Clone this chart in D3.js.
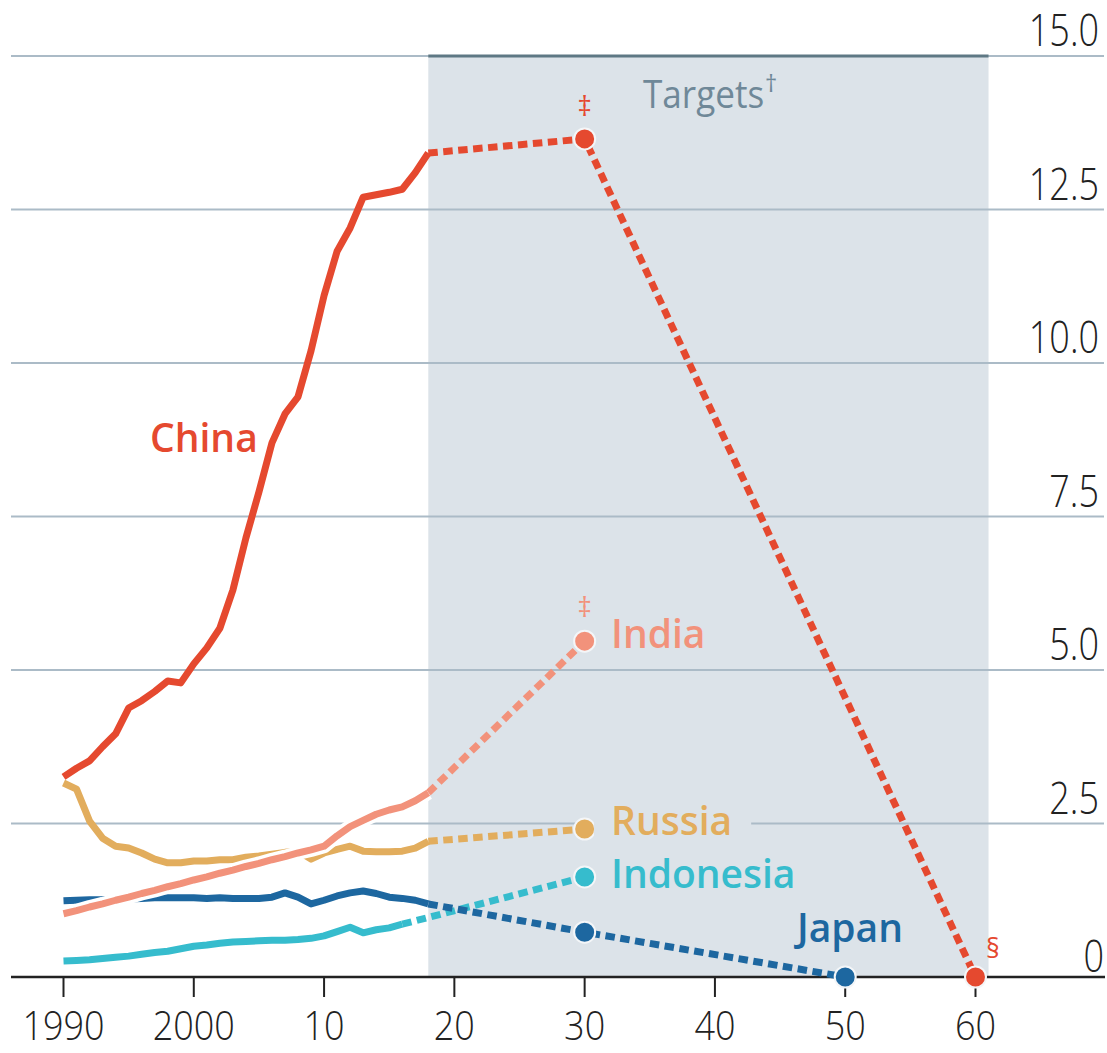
<!DOCTYPE html>
<html>
<head>
<meta charset="utf-8">
<script src="https://cdn.jsdelivr.net/npm/d3@7"></script>
<style>
  html, body { margin: 0; padding: 0; background: #fff; }
  svg { display: block; }
</style>
</head>
<body>
<svg id="chart" width="1107" height="1053"></svg>
<script>
// Données (Gt), séries annuelles depuis 1990
const startYear = 1990;
const china = [3.26, 3.4, 3.52, 3.75, 3.96, 4.38, 4.5, 4.65, 4.82, 4.79, 5.1, 5.36, 5.68, 6.3, 7.15,
  7.9, 8.7, 9.17, 9.45, 10.2, 11.1, 11.82, 12.2, 12.7, 12.74, 12.78, 12.83, 13.1, 13.42];
const india = [1.03, 1.08, 1.14, 1.19, 1.25, 1.3, 1.36, 1.41, 1.47, 1.52, 1.58, 1.63, 1.69, 1.74, 1.8,
  1.85, 1.91, 1.96, 2.02, 2.07, 2.13, 2.3, 2.45, 2.55, 2.65, 2.72, 2.77, 2.87, 3.0];
const russia = [3.16, 3.06, 2.54, 2.26, 2.13, 2.1, 2.02, 1.92, 1.86, 1.86, 1.89, 1.89, 1.91, 1.91, 1.95,
  1.97, 2.0, 2.03, 2.05, 1.92, 2.02, 2.08, 2.13, 2.05, 2.04, 2.04, 2.05, 2.1, 2.21];
const japan = [1.24, 1.25, 1.26, 1.26, 1.27, 1.27, 1.28, 1.29, 1.29, 1.29, 1.29, 1.28, 1.29, 1.28, 1.28,
  1.28, 1.3, 1.37, 1.3, 1.19, 1.25, 1.32, 1.37, 1.4, 1.36, 1.3, 1.28, 1.25, 1.19];
const indonesia = [0.26, 0.27, 0.28, 0.3, 0.32, 0.34, 0.37, 0.4, 0.42, 0.46, 0.5, 0.52, 0.55, 0.57, 0.58,
  0.59, 0.6, 0.6, 0.61, 0.63, 0.67, 0.74, 0.81, 0.72, 0.77, 0.8, 0.86];

// Objectifs (année, valeur)
const chinaTargets = [[2030, 13.65], [2060, 0]];
const indiaTargets = [[2030, 5.47]];
const russiaTargets = [[2030, 2.41]];
const indonesiaTargets = [[2030, 1.63]];
const japanTargets = [[2030, 0.73], [2050, 0]];

const xTicks = [1990, 2000, 2010, 2020, 2030, 2040, 2050, 2060];
const xTickLabels = ["1990", "2000", "10", "20", "30", "40", "50", "60"];
const yTicks = [0, 2.5, 5, 7.5, 10, 12.5, 15];
const targetSpan = [2018, 2061];

const series = [
  { name: "Indonesia", values: indonesia, targets: indonesiaTargets, color: "#36bccd", label: [611, 888] },
  { name: "Japan", values: japan, targets: japanTargets, color: "#1d67a0", label: [797, 942] },
  { name: "Russia", values: russia, targets: russiaTargets, color: "#e2ad5d", label: [611, 835] },
  { name: "India", values: india, targets: indiaTargets, color: "#f2927b", label: [611, 648], halo: true },
  { name: "China", values: china, targets: chinaTargets, color: "#e5492f", label: [150, 452] }
];

const svg = d3.select("#chart");

const x = d3.scaleLinear().domain([1990, 2060]).range([63.5, 975.5]);
const y = d3.scaleLinear().domain([0, 15]).range([977, 56]);

const font = "'Open Sans', 'Noto Sans', sans-serif";

// Zone des objectifs
svg.append("rect")
  .attr("x", x(targetSpan[0]))
  .attr("y", y(15))
  .attr("width", x(targetSpan[1]) - x(targetSpan[0]))
  .attr("height", y(0) - y(15))
  .attr("fill", "#dce3e9");

// Lignes de la grille
svg.append("g").selectAll("line")
  .data(yTicks.filter(d => d > 0))
  .enter().append("line")
  .attr("x1", 11).attr("x2", 1104)
  .attr("y1", d => y(d)).attr("y2", d => y(d))
  .attr("stroke", "#abbbc7")
  .attr("stroke-width", 2);

svg.append("line")
  .attr("x1", x(targetSpan[0])).attr("x2", x(targetSpan[1]))
  .attr("y1", y(15)).attr("y2", y(15))
  .attr("stroke", "#5e7884")
  .attr("stroke-width", 3);

svg.append("text")
  .attr("transform", "translate(643,108) scale(0.9,1)")
  .attr("font-family", font)
  .attr("font-size", 39)
  .attr("fill", "#6f8898")
  .text("Targets");
svg.append("text")
  .attr("x", 765).attr("y", 92)
  .attr("font-family", font)
  .attr("font-size", 24)
  .attr("fill", "#6f8898")
  .text("†");

// Étiquettes de l'axe Y
svg.append("g").selectAll("text")
  .data(yTicks)
  .enter().append("text")
  .attr("transform", d => d === 0
    ? `translate(1104,${y(d) - 5}) scale(0.9,1.08)`
    : `translate(1099,${y(d) - 10}) scale(0.9,1.08)`)
  .attr("text-anchor", "end")
  .attr("font-family", font)
  .attr("font-weight", 300)
  .attr("font-size", 40)
  .attr("fill", "#222")
  .text(d => d === 0 ? "0" : d.toFixed(1));

// Axe X
svg.append("g").selectAll("line")
  .data(xTicks)
  .enter().append("line")
  .attr("x1", d => x(d)).attr("x2", d => x(d))
  .attr("y1", y(0)).attr("y2", y(0) + 20)
  .attr("stroke", "#222")
  .attr("stroke-width", 2);

svg.append("g").selectAll("text")
  .data(xTicks)
  .enter().append("text")
  .attr("transform", d => `translate(${x(d)},1040) scale(0.9,1)`)
  .attr("text-anchor", "middle")
  .attr("font-family", font)
  .attr("font-weight", 300)
  .attr("font-size", 40)
  .attr("fill", "#222")
  .text((d, i) => xTickLabels[i]);

svg.append("line")
  .attr("x1", 11).attr("x2", 1105)
  .attr("y1", y(0)).attr("y2", y(0))
  .attr("stroke", "#222")
  .attr("stroke-width", 2.5);

const line = d3.line().x(d => x(d[0])).y(d => y(d[1]));

// Courbes
series.forEach(s => {
  const pts = s.values.map((v, i) => [startYear + i, v]);
  const last = pts[pts.length - 1];

  svg.append("path")
    .attr("d", line([last].concat(s.targets)))
    .attr("fill", "none")
    .attr("stroke", s.color)
    .attr("stroke-width", 7)
    .attr("stroke-dasharray", "9.5,5.5");

  if (s.halo) {
    svg.append("path")
      .attr("d", line(pts))
      .attr("fill", "none")
      .attr("stroke", "#fff")
      .attr("stroke-width", 14)
      .attr("stroke-linejoin", "round");
  }
  svg.append("path")
    .attr("d", line(pts))
    .attr("fill", "none")
    .attr("stroke", s.color)
    .attr("stroke-width", 7)
    .attr("stroke-linejoin", "round");

  svg.append("g").selectAll("circle")
    .data(s.targets)
    .enter().append("circle")
    .attr("cx", d => x(d[0]))
    .attr("cy", d => y(d[1]))
    .attr("r", 10.5)
    .attr("fill", s.color)
    .attr("stroke", "#f4f6f8")
    .attr("stroke-width", 2);
});

// Noms des pays
series.forEach(s => {
  const t = svg.append("text")
    .attr("x", s.label[0])
    .attr("y", s.label[1])
    .attr("font-family", font)
    .attr("font-weight", 600)
    .attr("font-size", 39)
    .attr("fill", s.color)
    .text(s.name);
  if (s.name === "Russia") {
    const b = t.node().getBBox();
    svg.insert("rect", () => t.node())
      .attr("x", b.x - 17).attr("y", b.y + 4)
      .attr("width", b.width + 36).attr("height", b.height - 8)
      .attr("fill", "#dce3e9");
  }
});

// Notes
const noteColor = "#e5492f";
svg.append("text").attr("x", x(2030)).attr("y", 116).attr("text-anchor", "middle")
  .attr("font-family", font).attr("font-size", 28).attr("fill", noteColor).text("‡");
svg.append("text").attr("x", x(2030)).attr("y", 617).attr("text-anchor", "middle")
  .attr("font-family", font).attr("font-size", 28).attr("fill", "#f2927b").text("‡");
svg.append("text").attr("x", 993).attr("y", 958).attr("text-anchor", "middle")
  .attr("font-family", font).attr("font-size", 27).attr("fill", noteColor).text("§");
</script>
</body>
</html>
